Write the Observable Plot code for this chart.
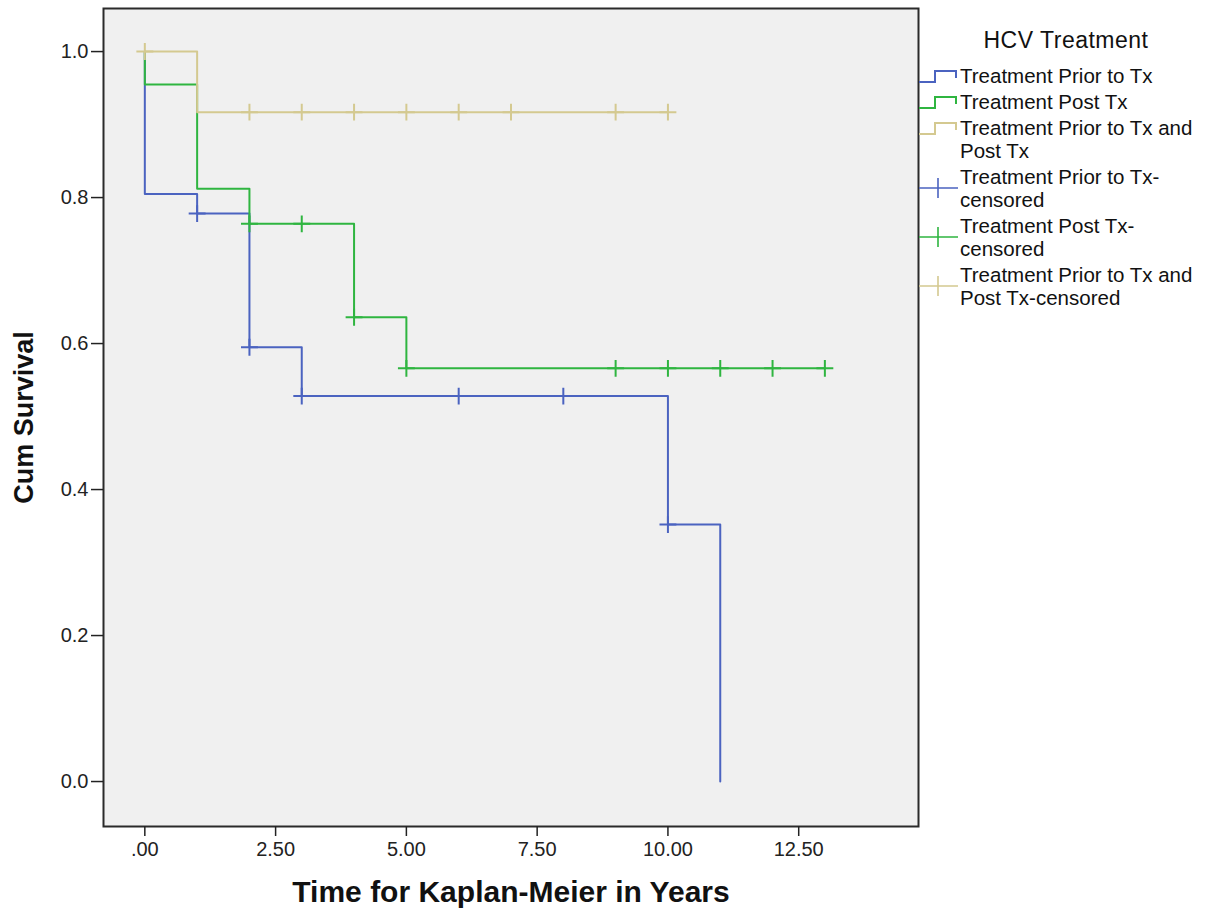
<!DOCTYPE html>
<html><head><meta charset="utf-8">
<script src="https://cdn.jsdelivr.net/npm/d3@7"></script>
<script src="https://cdn.jsdelivr.net/npm/@observablehq/plot@0.6"></script>
<style>
body{margin:0;background:#fff;}
#wrap{position:relative;width:1208px;height:914px;}
#legend{position:absolute;left:918px;top:27px;width:290px;font-family:"Liberation Sans",Arial,sans-serif;color:#111;}
#legend .title{font-size:23px;line-height:26px;text-align:center;width:296px;margin-left:0px;margin-bottom:11px;letter-spacing:0.5px;}
#legend .item{display:flex;align-items:flex-start;font-size:20.5px;line-height:23px;margin-bottom:3px;white-space:nowrap;}
#legend svg{flex:none;}
</style></head>
<body><div id="wrap"><div id="chart"></div><div id="legend"></div></div>
<script>
const seriesNames = ["Treatment Prior to Tx","Treatment Post Tx","Treatment Prior to Tx and Post Tx"];
const colors = ["#4b63c0","#2fb540","#d4c990"];
// step points (time, survival)
const priorTime = [0,0,1,2,3,10,11];
const priorSurv = [1.0,0.805,0.778,0.595,0.528,0.352,0.0];
const postTime = [0,0,1,2,4,5,13];
const postSurv = [1.0,0.955,0.812,0.764,0.636,0.566,0.566];
const bothTime = [0,1,10];
const bothSurv = [1.0,0.917,0.917];
// censored points
const priorCensTime = [1,2,3,6,8,10];
const priorCensSurv = [0.778,0.595,0.528,0.528,0.528,0.352];
const postCensTime = [2,3,4,5,9,10,11,12,13];
const postCensSurv = [0.764,0.764,0.636,0.566,0.566,0.566,0.566,0.566,0.566];
const bothCensTime = [0,2,3,4,5,6,7,9,10];
const bothCensSurv = [1.0,0.917,0.917,0.917,0.917,0.917,0.917,0.917,0.917];
const xTicks = [0,2.5,5,7.5,10,12.5];
const yTicks = [0,0.2,0.4,0.6,0.8,1.0];

const mk = (ts, ss, g) => ts.map((t,i)=>({t, s:ss[i], g}));
const steps = [...mk(priorTime,priorSurv,seriesNames[0]),...mk(postTime,postSurv,seriesNames[1]),...mk(bothTime,bothSurv,seriesNames[2])];
const cens = [...mk(priorCensTime,priorCensSurv,seriesNames[0]),...mk(postCensTime,postCensSurv,seriesNames[1]),...mk(bothCensTime,bothCensSurv,seriesNames[2])];

const chart = Plot.plot({
  width:1208, height:914,
  marginLeft:103, marginRight:290, marginTop:8, marginBottom:88,
  style:{background:"#fff", fontFamily:"Liberation Sans, Arial, sans-serif"},
  x:{domain:[-0.79,14.79], ticks:xTicks, tickFormat:d=>d===0?".00":d.toFixed(2), label:null},
  y:{domain:[-0.0616,1.059], ticks:yTicks, tickFormat:d=>d.toFixed(1), label:null},
  color:{domain:seriesNames, range:colors},
  marks:[
    Plot.frame({fill:"#f0f0f0", stroke:"none"}),
    Plot.line(steps,{x:"t", y:"s", z:"g", stroke:"g", curve:"step-after", strokeWidth:2}),
    Plot.dot(cens,{x:"t", y:"s", stroke:"g", symbol:"plus", r:5.5, strokeWidth:2}),
    Plot.frame({stroke:"#2a2a2a", strokeWidth:2}),
    Plot.axisY({ticks:yTicks, tickFormat:d=>d.toFixed(1), tickSize:12, tickPadding:3, fontSize:20, label:null, fill:"#222", stroke:"#222", strokeWidth:1.5}),
    Plot.axisX({ticks:xTicks, tickFormat:d=>d===0?".00":d.toFixed(2), tickSize:10, tickPadding:5, fontSize:20, label:null, fill:"#222", stroke:"#222", strokeWidth:1.5}),
    Plot.text(["Time for Kaplan-Meier in Years"],{frameAnchor:"bottom", dy:75, fontSize:30, fontWeight:"bold", fill:"#111"}),
    Plot.text(["Cum Survival"],{frameAnchor:"left", textAnchor:"middle", dx:-79, rotate:-90, fontSize:27, fontWeight:"bold", fill:"#111"})
  ]
});
document.getElementById("chart").append(chart);

// legend
const leg = document.getElementById("legend");
const t = document.createElement("div"); t.className="title"; t.textContent="HCV Treatment"; leg.append(t);
const labels = [
  ["Treatment Prior to Tx", 0, "step"],
  ["Treatment Post Tx", 1, "step"],
  ["Treatment Prior to Tx and<br>Post Tx", 2, "step"],
  ["Treatment Prior to Tx-<br>censored", 0, "cens"],
  ["Treatment Post Tx-<br>censored", 1, "cens"],
  ["Treatment Prior to Tx and<br>Post Tx-censored", 2, "cens"]
];
for (const [txt, ci, kind] of labels) {
  const it = document.createElement("div"); it.className="item";
  const c = colors[ci];
  const sym = kind==="step"
    ? `<svg width="42" height="23"><path d="M1,18 H17 V7 H38 V14" fill="none" stroke="${c}" stroke-width="2"/></svg>`
    : `<svg width="42" height="46"><path d="M1,23 H40 M20,13 V33" fill="none" stroke="${c}" stroke-width="1.6"/></svg>`;
  it.innerHTML = sym + `<span>${txt}</span>`;
  leg.append(it);
}
</script></body></html>
